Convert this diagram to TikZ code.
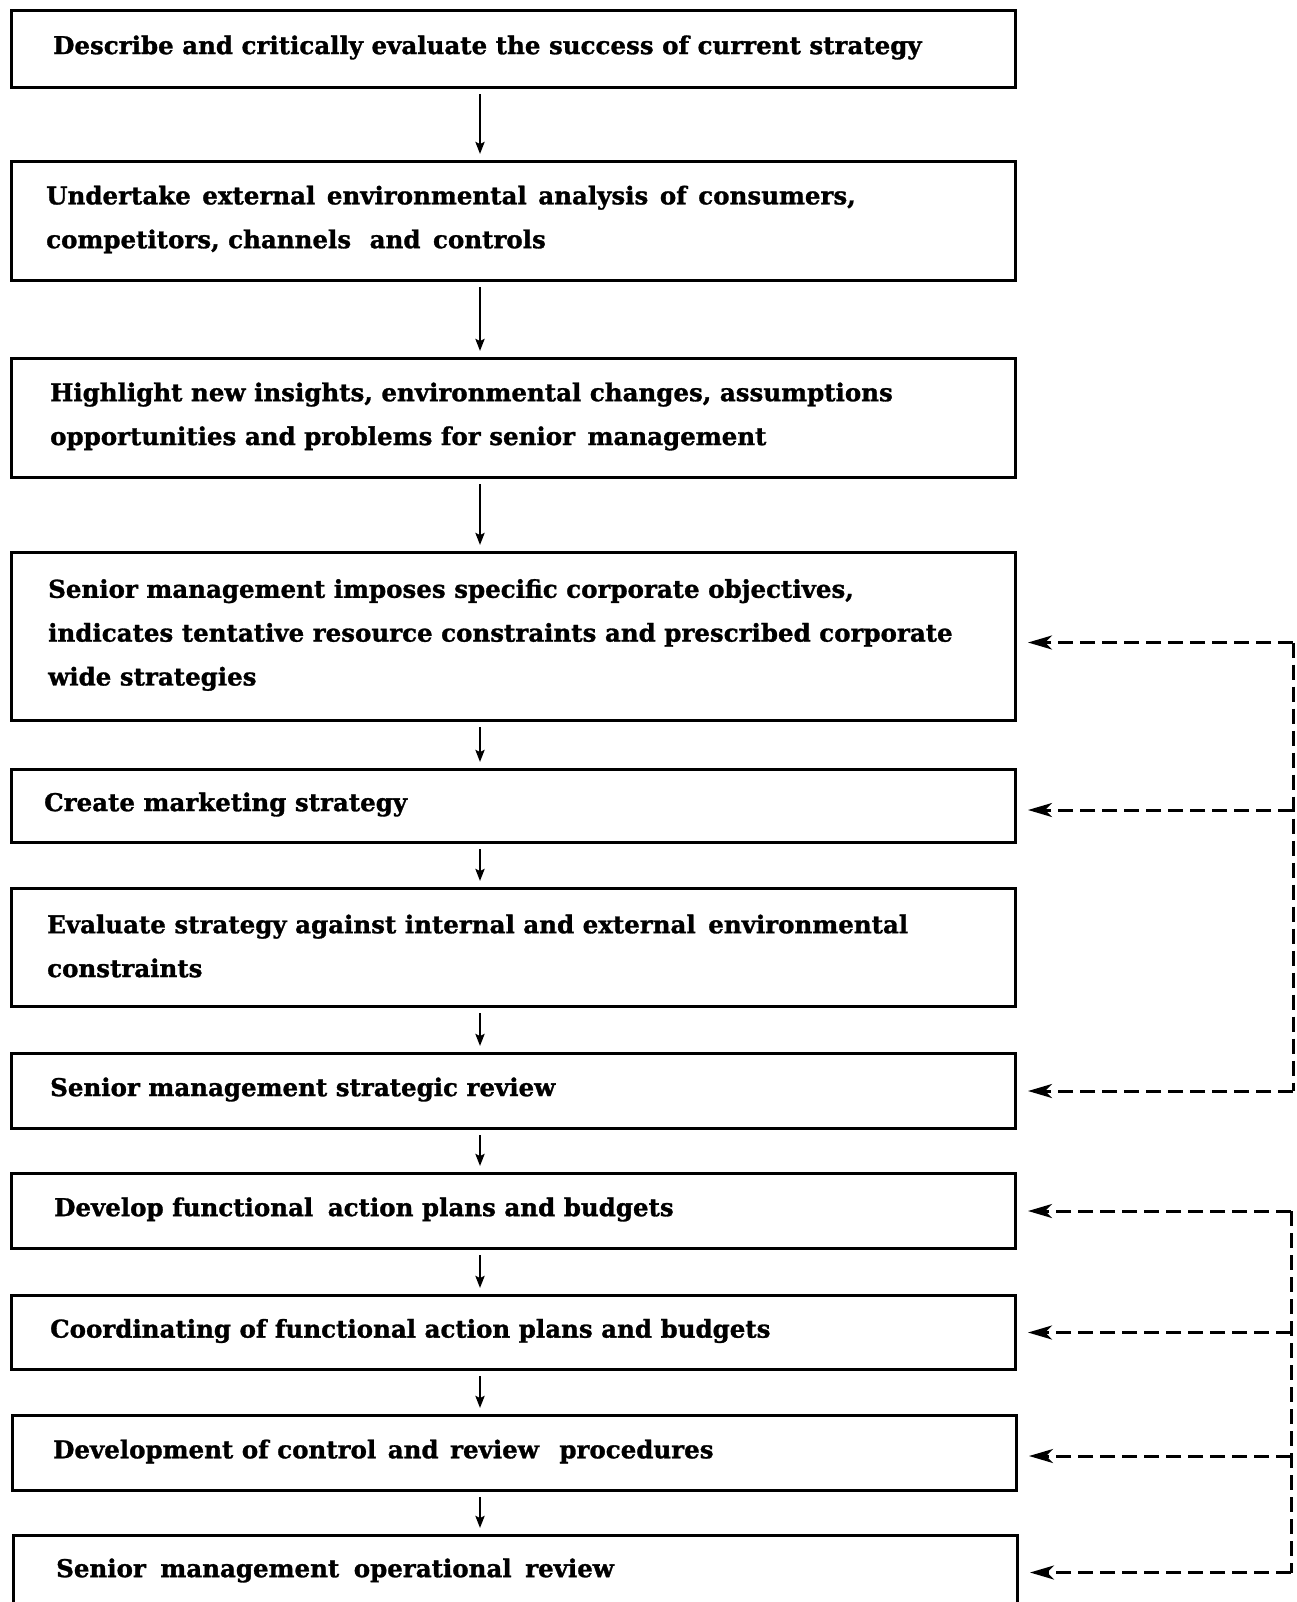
\documentclass[tikz,border=0pt]{standalone}
\usepackage{fontspec}
\setmainfont{DejaVu Serif}[BoldFeatures={FakeBold=1.2}]
\usetikzlibrary{arrows.meta,calc}
\begin{document}
\begin{tikzpicture}[x=1bp,y=-1bp,
  box/.style={draw,line width=3bp,rectangle,inner sep=0pt,anchor=north west,minimum width=1004bp},
  lbl/.style={anchor=west,inner sep=0pt,align=left,font=\fontsize{24.6}{44}\selectfont\bfseries},
  flow/.style={line width=2.4bp,-{Stealth[length=12bp,width=9bp,inset=2bp]},shorten <=5bp,shorten >=6bp},
  fbline/.style={line width=3bp,dash pattern=on 15bp off 7bp},
  fbarrow/.style={fbline,-{Stealth[length=24bp,width=14bp,inset=7bp]},shorten >=11bp}]
\useasboundingbox (0,0) rectangle (1296,1602);
\clip (0,0) rectangle (1296,1602);
% boxes
\node[box,minimum height=77bp]  (b1)  at (10,9)    {};
\node[box,minimum height=119bp] (b2)  at (10,160)  {};
\node[box,minimum height=119bp] (b3)  at (10,357)  {};
\node[box,minimum height=168bp] (b4)  at (10,551)  {};
\node[box,minimum height=73bp]  (b5)  at (10,768)  {};
\node[box,minimum height=118bp] (b6)  at (10,887)  {};
\node[box,minimum height=75bp]  (b7)  at (10,1052) {};
\node[box,minimum height=75bp]  (b8)  at (10,1172) {};
\node[box,minimum height=74bp]  (b9)  at (10,1294) {};
\node[box,minimum height=75bp]  (b10) at (11,1414) {};
\node[box,minimum height=74bp]  (b11) at (12,1534) {};
% texts
\node[lbl] (t1)  at (53,47.5)  {Describe and critically evaluate the success of current strategy};
\node[lbl] (t2)  at (46,219.5) {Undertake\hspace{3bp} external\hspace{3bp} environmental\hspace{3bp} analysis\hspace{3bp} of\hspace{3bp} consumers,\\competitors, channels\hspace{10bp} and\hspace{4bp} controls};
\node[lbl] (t3)  at (50,416.5) {Highlight new insights, environmental changes, assumptions\\opportunities and problems for senior\hspace{4bp} management};
\node[lbl] (t4)  at (48,635)   {Senior management imposes specific corporate objectives,\\indicates tentative resource constraints and prescribed corporate\\wide strategies};
\node[lbl] (t5)  at (44,804.5) {Create marketing strategy};
\node[lbl] (t6)  at (47,946)   {Evaluate strategy against internal and external\hspace{4bp} environmental\\constraints};
\node[lbl] (t7)  at (50,1089.5) {Senior management strategic review};
\node[lbl] (t8)  at (54,1209.5) {Develop functional\hspace{6bp} action plans and budgets};
\node[lbl] (t9)  at (50,1331)  {Coordinating of functional action plans and budgets};
\node[lbl] (t10) at (53,1451.5) {Development of control\hspace{3bp} and\hspace{3bp} review\hspace{12bp} procedures};
\node[lbl] (t11) at (56,1570.5) {Senior\hspace{6bp} management\hspace{6bp} operational\hspace{5bp} review};
% main flow
\coordinate (ax) at (480,0);
\draw[flow] (b1.south -| ax) -- (b2.north -| ax);
\draw[flow] (b2.south -| ax) -- (b3.north -| ax);
\draw[flow] (b3.south -| ax) -- (b4.north -| ax);
\draw[flow] (b4.south -| ax) -- (b5.north -| ax);
\draw[flow] (b5.south -| ax) -- (b6.north -| ax);
\draw[flow] (b6.south -| ax) -- (b7.north -| ax);
\draw[flow] (b7.south -| ax) -- (b8.north -| ax);
\draw[flow] (b8.south -| ax) -- (b9.north -| ax);
\draw[flow] (b9.south -| ax) -- (b10.north -| ax);
\draw[flow] (b10.south -| ax) -- (b11.north -| ax);
% feedback group 1
\coordinate (fa) at (1293,0);
\draw[fbline] ($(b4.east -| fa)+(0,6)$) -- (b7.east -| fa);
\draw[fbarrow] ($(b4.east -| fa)+(0,6)$) -- ($(b4.east)+(0,6)$);
\draw[fbarrow] ($(b5.east -| fa)+(0,4)$) -- ($(b5.east)+(0,4)$);
\draw[fbarrow] (b7.east -| fa) -- (b7.east);
% feedback group 2
\coordinate (fc) at (1291,0);
\draw[fbline] (b8.east -| fc) -- (b11.east -| fc);
\draw[fbarrow] (b8.east -| fc) -- (b8.east);
\draw[fbarrow] (b9.east -| fc) -- (b9.east);
\draw[fbarrow] ($(b10.east -| fc)+(0,3)$) -- ($(b10.east)+(0,3)$);
\draw[fbarrow] (b11.east -| fc) -- (b11.east);
\end{tikzpicture}
\end{document}
